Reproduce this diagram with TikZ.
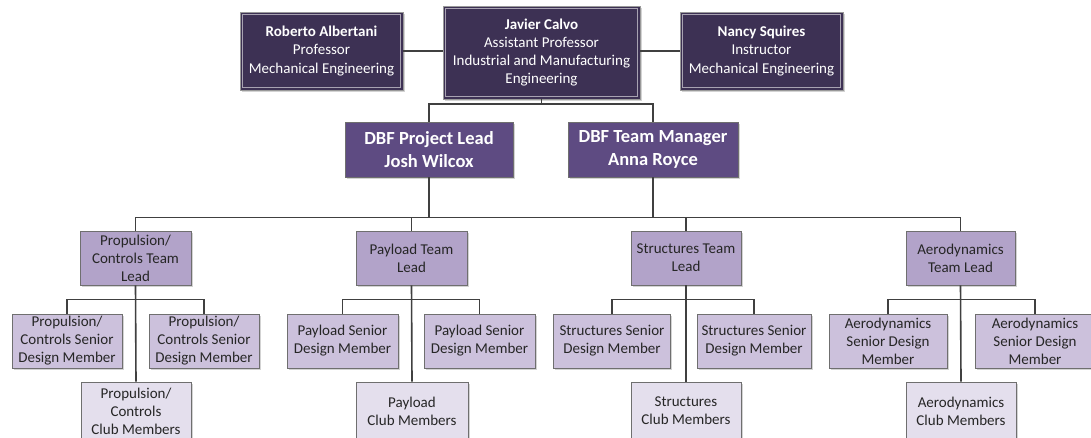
\documentclass[tikz,border=0pt]{standalone}
\usepackage{fontspec}
\setmainfont{Carlito}
\usetikzlibrary{shadows}
\definecolor{topfill}{HTML}{3D3154}
\definecolor{dbffill}{HTML}{5E4B82}
\definecolor{leadfill}{HTML}{B2A3C9}
\definecolor{seniorfill}{HTML}{CCC1DC}
\definecolor{clubfill}{HTML}{E4DFED}
\definecolor{edge}{HTML}{6F6F6F}
\definecolor{wire}{HTML}{404040}
\begin{document}
\begin{tikzpicture}[x=1pt,y=-1pt,
  base/.style={rectangle, align=center, inner sep=0pt, line width=0.9pt,
    drop shadow={shadow xshift=1.5pt, shadow yshift=-1.5pt, opacity=0.35}},
  framed/.style={path picture={\draw[white!55!topfill, line width=0.6pt]
      ([shift={(2.5pt,-2.5pt)}]path picture bounding box.north west) rectangle
      ([shift={(-2.5pt,2.5pt)}]path picture bounding box.south east);}},
  topbox/.style={base, framed, draw=gray!80, fill=topfill, text=white,
    font=\fontsize{15}{18.3}\selectfont, minimum height=78pt, minimum width=163pt},
  dbfbox/.style={base, draw=edge, fill=dbffill, text=white,
    font=\fontsize{18.5}{23}\selectfont\bfseries, minimum height=55pt},
  leadbox/.style={base, draw=edge, fill=leadfill, text=black!85,
    font=\fontsize{15}{18}\selectfont, minimum height=54pt, minimum width=111pt},
  seniorbox/.style={leadbox, fill=seniorfill},
  clubbox/.style={leadbox, fill=clubfill, minimum height=58pt},
  wireline/.style={draw=wire, line width=1.6pt}
]
\useasboundingbox (0,0) rectangle (1091,437);

% faculty advisors
\node[topbox] (rob) at (321.5,51) {\textbf{Roberto Albertani}\\Professor\\Mechanical Engineering};
\node[topbox, minimum width=197pt, minimum height=93pt] (jav) at (541.5,52.5)
  {\textbf{Javier Calvo}\\Assistant Professor\\Industrial and Manufacturing\\Engineering};
\node[topbox] (nan) at (761.5,51) {\textbf{Nancy Squires}\\Instructor\\Mechanical Engineering};

% student leadership
\node[dbfbox, minimum width=168pt] (pl) at (429,149.5) {DBF Project Lead\\Josh Wilcox};
\node[dbfbox, minimum width=170pt] (tm) at (653,149.5) {DBF Team Manager\\Anna Royce};

% team leads
\node[leadbox] (prl) at (135.5,258) {Propulsion/\\Controls Team\\Lead};
\node[leadbox] (pyl) at (411.5,258) {Payload Team\\Lead};
\node[leadbox, minimum width=110pt] (stl) at (686,258) {Structures Team\\Lead};
\node[leadbox, minimum width=109pt] (ael) at (960.5,258) {Aerodynamics\\Team Lead};

% senior design members
\node[seniorbox, minimum width=110pt] (prs1) at (67,341) {Propulsion/\\Controls Senior\\Design Member};
\node[seniorbox, minimum width=110pt] (prs2) at (204,341) {Propulsion/\\Controls Senior\\Design Member};
\node[seniorbox] (pys1) at (342.5,341) {Payload Senior\\Design Member};
\node[seniorbox] (pys2) at (479.5,341) {Payload Senior\\Design Member};
\node[seniorbox, minimum width=117pt] (sts1) at (612,341) {Structures Senior\\Design Member};
\node[seniorbox, minimum width=114pt] (sts2) at (754,341) {Structures Senior\\Design Member};
\node[seniorbox, minimum width=118pt] (aes1) at (888,341) {Aerodynamics\\Senior Design\\Member};
\node[seniorbox, minimum width=120pt] (aes2) at (1035,341) {Aerodynamics\\Senior Design\\Member};

% club members
\node[clubbox, minimum width=110pt] (prc) at (136,411) {Propulsion/\\Controls\\Club Members};
\node[clubbox, minimum width=112pt] (pyc) at (412,411) {Payload\\Club Members};
\node[clubbox, minimum width=110pt] (stc) at (686,411) {Structures\\Club Members};
\node[clubbox, minimum width=110pt] (aec) at (961,411) {Aerodynamics\\Club Members};

% connectors
\draw[wireline] (rob.east) -- (rob.east -| jav.west);
\draw[wireline] (nan.west) -- (nan.west -| jav.east);
\coordinate (fork) at (541.5,104);
\draw[wireline] (jav.south) -- (fork);
\draw[wireline] (pl.north) |- (fork) -| (tm.north);
\coordinate (bar) at (0,218);
\draw[wireline] (pl.south) -- (pl.south |- bar);
\draw[wireline] (tm.south) -- (tm.south |- bar);
\draw[wireline] (prl.north) -- ++(0,-13) -| (ael.north);
\draw[wireline] (pyl.north) -- ++(0,-13);
\draw[wireline] (stl.north) -- ++(0,-13);
\foreach \l/\a/\b/\c in {prl/prs1/prs2/prc, pyl/pys1/pys2/pyc, stl/sts1/sts2/stc, ael/aes1/aes2/aec}{
  \draw[wireline] (\l.south) -- (\c.north);
  \draw[wireline] (\a.north) -- ++(0,-14) -| (\b.north);
}
\end{tikzpicture}
\end{document}
